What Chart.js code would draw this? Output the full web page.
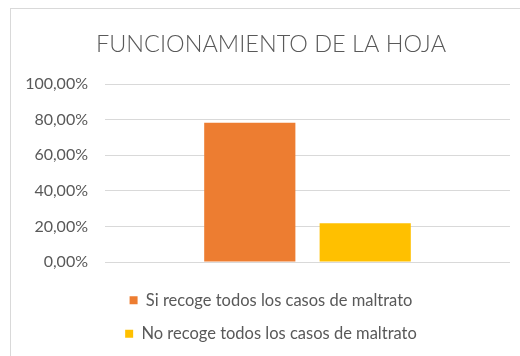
<!DOCTYPE html>
<html>
<head>
<meta charset="utf-8">
<script src="https://cdn.jsdelivr.net/npm/chart.js@4.4.1/dist/chart.umd.min.js"></script>
<style>
  html, body { margin: 0; padding: 0; background: #fff; overflow: hidden; }
  #marco {
    position: absolute; left: 10px; top: 8px;
    width: 520px; height: 360px;
    border-top: 1px solid #d9d9d9; border-left: 1px solid #d9d9d9;
  }
</style>
</head>
<body>
<div id="marco"><canvas id="grafico" width="520" height="348"></canvas></div>
<script>
// ================== DATOS ==================
const categorias = [""];
const series = ["Si recoge todos los casos de maltrato", "No recoge todos los casos de maltrato"];
const valores = [78.26, 21.74];
const colores = ["#ED7D31", "#FFC000"];
const titulo = "FUNCIONAMIENTO DE LA HOJA";

const gris = "#595959";
const fuente = "Lato, 'Open Sans', sans-serif";

function formatoPorcentaje(v) {
  return v.toFixed(2).replace(".", ",") + "%";
}

// ================== GRAFICO ==================
const ctx = document.getElementById("grafico").getContext("2d");

const grafico = new Chart(ctx, {
  type: "bar",
  data: {
    labels: categorias,
    datasets: series.map((nombre, i) => ({
      label: nombre,
      data: [valores[i]],
      backgroundColor: colores[i],
      borderWidth: 0,
      categoryPercentage: 0.57,
      barPercentage: 0.79
    }))
  },
  options: {
    responsive: false,
    animation: false,
    layout: { padding: { left: 0, right: 0, top: 0, bottom: 5 } },
    plugins: {
      tooltip: { enabled: false },
      title: {
        display: true,
        text: titulo,
        color: gris,
        font: { family: fuente, size: 23.5, weight: 300 },
        padding: { top: 21, bottom: 26 }
      },
      legend: {
        position: "bottom",
        labels: {
          color: gris,
          font: { family: fuente, size: 16.5 },
          boxWidth: 8,
          boxHeight: 8,
          padding: 17
        }
      }
    },
    scales: {
      x: {
        ticks: { display: false },
        grid: { display: false },
        border: { display: false },
        afterFit: scale => { scale.height = 13; }
      },
      y: {
        min: 0,
        max: 100,
        ticks: {
          stepSize: 20,
          padding: 17,
          color: gris,
          font: { family: fuente, size: 16 },
          callback: v => formatoPorcentaje(v)
        },
        grid: { color: "#d9d9d9", lineWidth: 1, drawTicks: false },
        border: { display: false },
        afterFit: scale => { scale.width = 94; }
      },
      // margen derecho del area de trazado, sin marcas
      derecha: {
        position: "right",
        ticks: { display: false },
        grid: { display: false },
        border: { display: false },
        afterFit: scale => { scale.width = 21; }
      }
    }
  }
});
</script>
</body>
</html>
